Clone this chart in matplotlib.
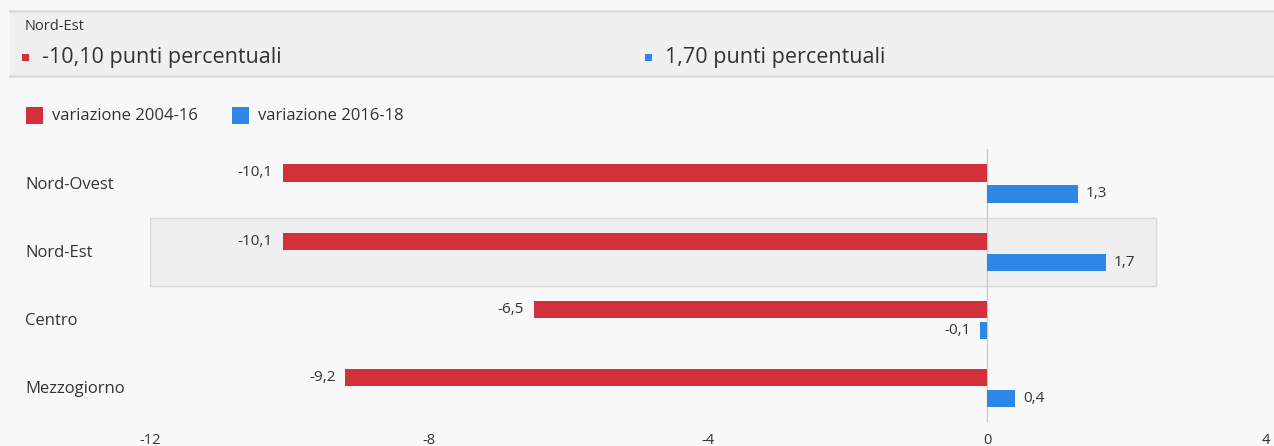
import matplotlib
matplotlib.use("Agg")
import matplotlib.pyplot as plt
import matplotlib.transforms as mtransforms
from matplotlib.patches import Rectangle
import numpy as np

plt.rcParams['font.family'] = ['Open Sans', 'DejaVu Sans']

categories = ["Nord-Ovest", "Nord-Est", "Centro", "Mezzogiorno"]
var_2004_16 = [-10.1, -10.1, -6.5, -9.2]
var_2016_18 = [1.3, 1.7, -0.1, 0.4]
series_names = ["variazione 2004-16", "variazione 2016-18"]
highlight = "Nord-Est"
highlight_vals = ["-10,10 punti percentuali", "1,70 punti percentuali"]
xticks = [-12, -8, -4, 0, 4]

RED = "#d2303b"
BLUE = "#2e86e6"
TXT = "#333333"
BG = "#f8f8f8"

W, H = 1274, 446
fig = plt.figure(figsize=(W / 100, H / 100), dpi=100, facecolor=BG)

# axes placement in pixels
x0, x1 = 150, 1266
ytop, ybot = 149.4, 422.1
ax = fig.add_axes([x0 / W, (H - ybot) / H, (x1 - x0) / W, (ybot - ytop) / H])
ax.set_facecolor("none")
ax.set_xlim(-12, 4)
ax.set_ylim(len(categories) - 0.5, -0.5)

y = np.arange(len(categories))
off = 0.154
bh = 0.25

# highlight band
hi = categories.index(highlight)
band = Rectangle((0, hi - 0.5), 0.901, 1.0,
                 transform=mtransforms.blended_transform_factory(ax.transAxes, ax.transData),
                 facecolor="#efefef", edgecolor="#d9d9d9", linewidth=1, zorder=0)
ax.add_patch(band)

ax.axvline(0, color="#cccccc", linewidth=1, zorder=1)

b1 = ax.barh(y - off, var_2004_16, height=bh, color=RED, zorder=2, label=series_names[0])
b2 = ax.barh(y + off, var_2016_18, height=bh, color=BLUE, zorder=2, label=series_names[1])

def fmt(v):
    return f"{v:.1f}".replace(".", ",")

for bars, vals in ((b1, var_2004_16), (b2, var_2016_18)):
    for rect, v in zip(bars, vals):
        yc = rect.get_y() + rect.get_height() / 2
        if v < 0:
            ax.annotate(fmt(v), (v, yc), xytext=(-7, 0), textcoords="offset points",
                        ha="right", va="center", fontsize=11, color=TXT)
        else:
            ax.annotate(fmt(v), (v, yc), xytext=(6, 0), textcoords="offset points",
                        ha="left", va="center", fontsize=11, color=TXT)

# category labels
tr = mtransforms.blended_transform_factory(fig.transFigure, ax.transData)
for i, c in enumerate(categories):
    ax.text(25 / W, i + 0.02, c, transform=tr, ha="left", va="center", fontsize=12, color=TXT)

ax.set_yticks([])
ax.set_xticks(xticks)
ax.set_xticklabels([str(t) for t in xticks], fontsize=10.5, color=TXT)
ax.tick_params(axis="x", length=0, pad=8)
for s in ax.spines.values():
    s.set_visible(False)

# legend (manual swatches)
for xs, col, name in ((26, RED, series_names[0]), (232, BLUE, series_names[1])):
    fig.patches.append(Rectangle((xs / W, 1 - 124 / H), 17 / W, 17 / H, transform=fig.transFigure,
                                 facecolor=col, edgecolor="none"))
    fig.text((xs + 26) / W, 1 - 116 / H, name, fontsize=12, color=TXT, ha="left", va="center")

# header band
fig.patches.append(Rectangle((10 / W, 1 - 76 / H), 1 - 10 / W, 65 / H, transform=fig.transFigure,
                             facecolor="#f0f0f0", edgecolor="none", zorder=0))
for yy in (11, 76):
    fig.add_artist(plt.Line2D([10 / W, 1], [1 - yy / H, 1 - yy / H], transform=fig.transFigure,
                              color="#dcdcdc", linewidth=2))
fig.text(25 / W, 1 - 27 / H, highlight, fontsize=10.5, color=TXT, ha="left", va="center")
for xs, col, txt in ((22, RED, highlight_vals[0]), (645, BLUE, highlight_vals[1])):
    fig.patches.append(Rectangle((xs / W, 1 - 61 / H), 7 / W, 7 / H, transform=fig.transFigure,
                                 facecolor=col, edgecolor="none"))
    fig.text((xs + 20) / W, 1 - 57 / H, txt, fontsize=15.5, color=TXT, ha="left", va="center")

fig.savefig("out.png", dpi=100, facecolor=BG)
